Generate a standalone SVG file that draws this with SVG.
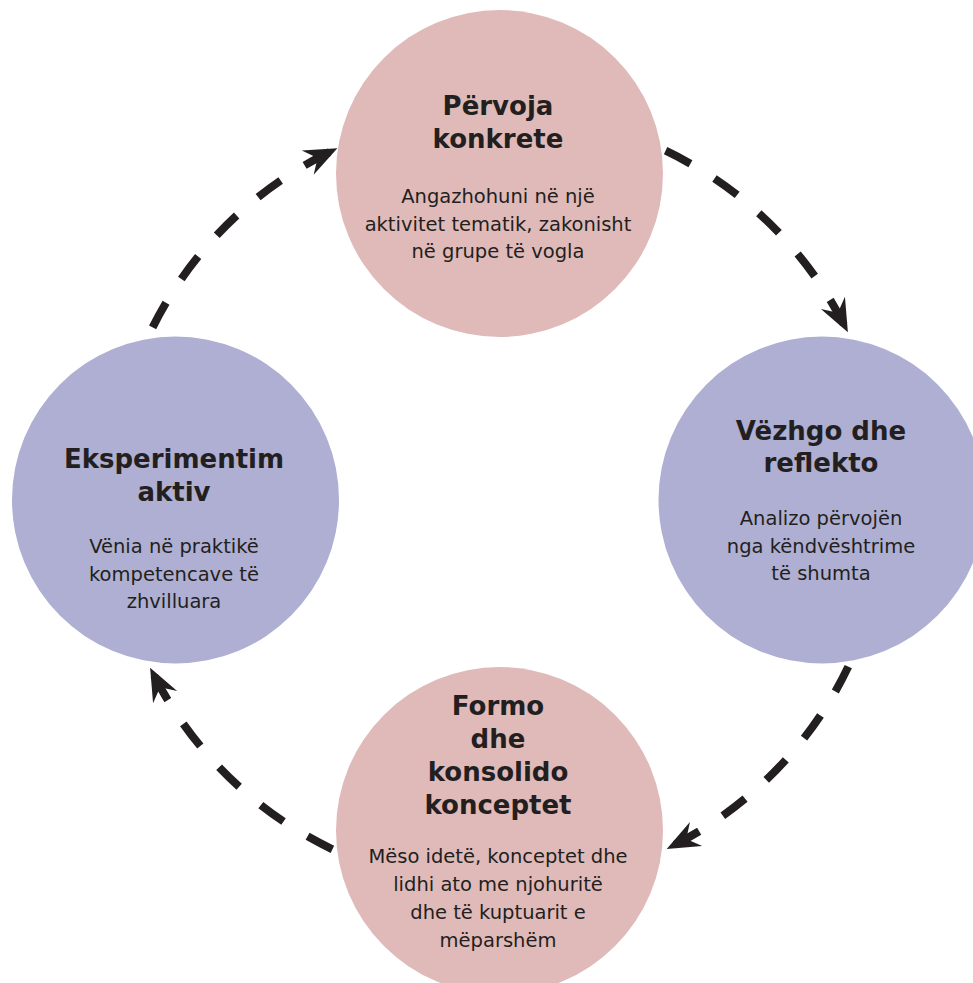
<svg xmlns="http://www.w3.org/2000/svg" width="973" height="983" viewBox="0 0 973 983">
  <style>
    .pink { fill: #dfbab9; }
    .blue { fill: #aeafd2; }
    .title { font-family: "DejaVu Sans", "Liberation Sans", sans-serif; font-weight: bold; font-size: 26px; fill: #231f20; text-anchor: middle; }
    .body { font-family: "DejaVu Sans", "Liberation Sans", sans-serif; font-size: 19.5px; fill: #231f20; text-anchor: middle; }
    .link { fill: none; stroke: #231f20; stroke-width: 8; stroke-dasharray: 28 28.3; marker-start: url(#head); }
  </style>
  <defs>
    <!-- barbed arrowhead; placed at the path start and turned to point forward -->
    <marker id="head" markerUnits="userSpaceOnUse" viewBox="-26 -15 36 30" refX="0" refY="0" markerWidth="36" markerHeight="30" orient="auto-start-reverse" overflow="visible">
      <path d="M9,0 L-24,-13.5 L-13,0 L-24,13.5 Z" fill="#231f20"/>
    </marker>
  </defs>

  <rect width="973" height="983" fill="#ffffff"/>

  <g id="node-pervoja">
    <circle class="pink" cx="499.5" cy="173.5" r="163.5"/>
    <text class="title" x="498" y="115">Përvoja</text>
    <text class="title" x="498" y="148">konkrete</text>
    <text class="body" x="498" y="203">Angazhohuni në një</text>
    <text class="body" x="498" y="230.5">aktivitet tematik, zakonisht</text>
    <text class="body" x="498" y="258">në grupe të vogla</text>
  </g>

  <g id="node-vezhgo">
    <circle class="blue" cx="822" cy="500" r="163.5"/>
    <text class="title" x="821" y="440">Vëzhgo dhe</text>
    <text class="title" x="821" y="472">reflekto</text>
    <text class="body" x="821" y="525">Analizo përvojën</text>
    <text class="body" x="821" y="553">nga këndvështrime</text>
    <text class="body" x="821" y="580">të shumta</text>
  </g>

  <g id="node-formo">
    <circle class="pink" cx="499.5" cy="830.5" r="163.5"/>
    <text class="title" x="498" y="715">Formo</text>
    <text class="title" x="498" y="748">dhe</text>
    <text class="title" x="498" y="781">konsolido</text>
    <text class="title" x="498" y="814">konceptet</text>
    <text class="body" x="498" y="863">Mëso idetë, konceptet dhe</text>
    <text class="body" x="498" y="891">lidhi ato me njohuritë</text>
    <text class="body" x="498" y="919">dhe të kuptuarit e</text>
    <text class="body" x="498" y="946.5">mëparshëm</text>
  </g>

  <g id="node-eksperimentim">
    <circle class="blue" cx="175.5" cy="500" r="163.5"/>
    <text class="title" x="174" y="468">Eksperimentim</text>
    <text class="title" x="174" y="501">aktiv</text>
    <text class="body" x="174" y="553">Vënia në praktikë</text>
    <text class="body" x="174" y="581">kompetencave të</text>
    <text class="body" x="174" y="608">zhvilluara</text>
  </g>

  <!-- dashed cycle arcs, each drawn from its arrow end back to its tail -->
  <g id="connectors">
    <path class="link" d="M843.8,324.3 A387,387 0 0 0 665.6,150.7"/>
    <path class="link" d="M674.7,844.8 A387,387 0 0 0 848.3,666.6"/>
    <path class="link" d="M154.2,675.7 A387,387 0 0 0 332.4,849.3"/>
    <path class="link" d="M329.3,152.2 A387,387 0 0 0 149.7,333.4"/>
  </g>
</svg>
